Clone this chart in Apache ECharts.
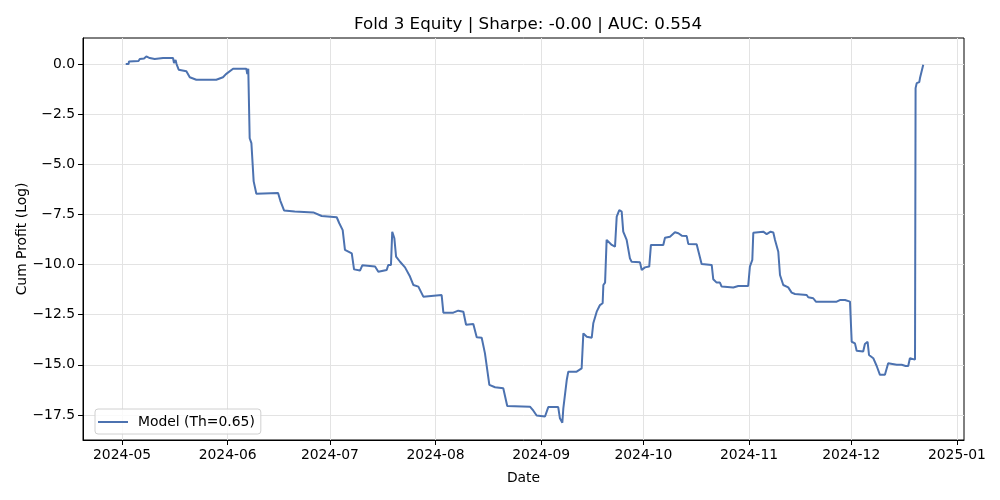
<!DOCTYPE html>
<html>
<head>
<meta charset="utf-8">
<script src="https://cdn.jsdelivr.net/npm/echarts@6/dist/echarts.min.js"></script>
<style>html,body{margin:0;padding:0;background:#fff}#c{width:1000px;height:500px}</style>
</head>
<body>
<div id="c"></div>
<script>
const titleText = 'Fold 3 Equity | Sharpe: -0.00 | AUC: 0.554';
const seriesName = 'Model (Th=0.65)';
const xTickLabels = ['2024-05-01','2024-06-01','2024-07-01','2024-08-01','2024-09-01','2024-10-01','2024-11-01','2024-12-01','2025-01-01'];
const yTickValues = [0, -2.5, -5, -7.5, -10, -12.5, -15, -17.5];
const dates = [
'2024-05-02 02:00','2024-05-02 22:00','2024-05-03 01:00','2024-05-05 20:00','2024-05-06 05:00','2024-05-07 11:00','2024-05-08 03:00','2024-05-09 03:00','2024-05-10 14:00','2024-05-13 01:00',
'2024-05-15 23:00','2024-05-16 06:00','2024-05-16 17:00','2024-05-17 00:00','2024-05-17 15:00','2024-05-19 21:00','2024-05-20 21:00','2024-05-22 19:00','2024-05-28 16:00','2024-05-30 15:00',
'2024-05-31 12:00','2024-06-01 02:00','2024-06-02 14:00','2024-06-06 11:00','2024-06-06 18:00','2024-06-07 01:00','2024-06-07 11:00','2024-06-07 23:00','2024-06-08 15:00','2024-06-09 10:00',
'2024-06-15 19:00','2024-06-16 11:00','2024-06-17 13:00','2024-06-20 16:00','2024-06-26 03:00','2024-06-28 14:00','2024-07-03 00:00','2024-07-03 18:00','2024-07-04 18:00','2024-07-05 10:00',
'2024-07-07 10:00','2024-07-08 02:00','2024-07-09 20:00','2024-07-10 12:00','2024-07-14 06:00','2024-07-15 05:00','2024-07-17 16:00','2024-07-18 03:00','2024-07-18 22:00','2024-07-19 07:00',
'2024-07-19 22:00','2024-07-20 10:00','2024-07-21 14:00','2024-07-23 01:00','2024-07-24 12:00','2024-07-25 12:00','2024-07-26 23:00','2024-07-28 10:00','2024-08-02 19:00','2024-08-03 07:00',
'2024-08-06 05:00','2024-08-07 16:00','2024-08-09 04:00','2024-08-09 23:00','2024-08-12 02:00','2024-08-13 02:00','2024-08-14 13:00','2024-08-15 12:00','2024-08-16 19:00','2024-08-18 11:00',
'2024-08-20 21:00','2024-08-22 01:00','2024-08-28 17:00','2024-08-29 17:00','2024-08-30 16:00','2024-09-02 03:00','2024-09-03 02:00','2024-09-06 00:00','2024-09-06 12:00','2024-09-07 05:00',
'2024-09-07 12:00','2024-09-08 12:00','2024-09-08 23:00','2024-09-11 10:00','2024-09-12 21:00','2024-09-13 09:00','2024-09-14 09:00','2024-09-15 20:00','2024-09-16 07:00','2024-09-17 07:00',
'2024-09-18 06:00','2024-09-19 01:00','2024-09-19 06:00','2024-09-19 18:00','2024-09-20 05:00','2024-09-20 17:00','2024-09-21 17:00','2024-09-22 16:00','2024-09-23 04:00','2024-09-23 22:00',
'2024-09-24 15:00','2024-09-25 02:00','2024-09-26 02:00','2024-09-27 01:00','2024-09-27 13:00','2024-09-30 00:00','2024-09-30 12:00','2024-10-01 11:00','2024-10-02 17:00','2024-10-03 05:00',
'2024-10-06 20:00','2024-10-07 08:00','2024-10-08 19:00','2024-10-10 06:00','2024-10-11 06:00','2024-10-12 06:00','2024-10-13 17:00','2024-10-14 04:00','2024-10-16 15:00','2024-10-18 02:00',
'2024-10-21 01:00','2024-10-21 12:00','2024-10-22 12:00','2024-10-23 11:00','2024-10-23 23:00','2024-10-27 09:00','2024-10-28 20:00','2024-10-31 18:00','2024-11-01 06:00','2024-11-01 23:00',
'2024-11-02 06:00','2024-11-05 04:00','2024-11-06 04:00','2024-11-07 08:00','2024-11-08 03:00','2024-11-08 15:00','2024-11-09 14:00','2024-11-10 02:00','2024-11-11 01:00','2024-11-12 12:00',
'2024-11-13 12:00','2024-11-14 12:00','2024-11-17 22:00','2024-11-18 09:00','2024-11-19 20:00','2024-11-20 15:00','2024-11-26 17:00','2024-11-27 16:00','2024-11-29 04:00','2024-11-29 16:00',
'2024-11-30 15:00','2024-12-01 03:00','2024-12-02 02:00','2024-12-02 14:00','2024-12-04 12:00','2024-12-05 00:00','2024-12-05 19:00','2024-12-06 05:00','2024-12-07 11:00','2024-12-08 11:00',
'2024-12-09 10:00','2024-12-10 21:00','2024-12-11 20:00','2024-12-14 08:00','2024-12-15 19:00','2024-12-16 06:00','2024-12-16 23:00','2024-12-17 17:00','2024-12-18 05:00','2024-12-19 17:00',
'2024-12-19 21:00','2024-12-20 05:00','2024-12-20 23:00','2024-12-21 04:00','2024-12-21 16:00','2024-12-22 03:00'
];
const cumProfit = [
0.0,0.0,0.13,0.15,0.25,0.28,0.38,0.3,0.25,0.3,
0.3,0.05,0.2,0.0,-0.28,-0.36,-0.66,-0.78,-0.78,-0.66,
-0.5,-0.45,-0.23,-0.23,-0.5,-0.23,-3.7,-3.94,-5.85,-6.47,
-6.43,-6.82,-7.3,-7.35,-7.4,-7.58,-7.64,-7.94,-8.28,-9.27,
-9.44,-10.24,-10.3,-10.04,-10.1,-10.36,-10.27,-10.02,-10.02,-8.36,
-8.69,-9.6,-9.86,-10.14,-10.6,-11.02,-11.1,-11.6,-11.52,-12.4,
-12.4,-12.3,-12.35,-13.0,-12.96,-13.63,-13.65,-14.43,-16.0,-16.12,
-16.17,-17.05,-17.09,-17.29,-17.53,-17.58,-17.11,-17.11,-17.67,-17.89,
-17.17,-15.76,-15.34,-15.34,-15.18,-13.43,-13.6,-13.65,-12.93,-12.35,
-12.02,-11.93,-11.02,-10.9,-8.77,-8.69,-9.02,-9.11,-7.61,-7.28,
-7.36,-8.36,-8.77,-9.69,-9.86,-9.89,-10.27,-10.14,-10.1,-9.02,
-9.02,-8.66,-8.61,-8.39,-8.44,-8.56,-8.58,-8.97,-8.99,-9.97,
-10.02,-10.73,-10.9,-10.9,-11.1,-11.14,-11.07,-11.07,-10.1,-9.77,
-8.41,-8.36,-8.48,-8.36,-8.4,-8.77,-9.36,-10.52,-11.02,-11.14,
-11.4,-11.47,-11.52,-11.63,-11.68,-11.85,-11.85,-11.77,-11.77,-11.85,
-11.85,-13.85,-13.93,-14.3,-14.34,-13.96,-13.85,-14.51,-14.67,-15.06,
-15.5,-15.5,-14.92,-15.0,-15.0,-14.92,-15.06,-15.06,-14.67,-14.74,
-1.2,-0.95,-0.9,-0.7,-0.66,-0.03
];

function ts(s){const p=s.split(/[- :]/).map(Number);return Date.UTC(p[0],p[1]-1,p[2],p[3]||0,p[4]||0);}
const seriesData = dates.map((d,i)=>[ts(d), cumProfit[i]]);
const xTicks = xTickLabels.map(ts);
const fontFam = 'DejaVu Sans';
const chart = echarts.init(document.getElementById('c'), null, {renderer:'canvas'});
chart.setOption({
  animation:false,
  backgroundColor:'#fff',
  textStyle:{fontFamily:fontFam},
  title:{text:titleText,left:523,top:11,textAlign:'center',textStyle:{fontFamily:fontFam,fontSize:16.7,fontWeight:'normal',color:'#000'}},
  grid:{left:83,right:36,top:38,bottom:60,show:true,borderColor:'#000',borderWidth:1,backgroundColor:'transparent'},
  legend:{left:95,top:409,padding:[6,6,5,3],itemWidth:30,itemHeight:12,itemGap:10,
    borderColor:'#d0d0d0',borderWidth:1,borderRadius:3,backgroundColor:'rgba(255,255,255,0.8)',
    textStyle:{fontFamily:fontFam,fontSize:13.9,color:'#000',padding:[0,0,0,5]},data:[{name:seriesName,icon:'path://M0,0 L30,0 L30,2 L0,2 Z'}]},
  xAxis:{type:'value',min:ts('2024-04-19 13:00'),max:ts('2025-01-03 02:00'),
    name:'Date',nameLocation:'middle',nameGap:31,nameMoveOverlap:false,nameTextStyle:{fontFamily:fontFam,fontSize:13.9,color:'#000'},
    axisLine:{show:true,onZero:false,lineStyle:{color:'#000',width:1}},
    axisTick:{show:true,length:5,inside:false,lineStyle:{color:'#000'},customValues:xTicks},
    minorTick:{show:false},
    axisLabel:{customValues:xTicks,fontFamily:fontFam,fontSize:13.9,color:'#000',margin:8,
      formatter:function(v){const d=new Date(v);return d.getUTCFullYear()+'-'+String(d.getUTCMonth()+1).padStart(2,'0');}},
    splitLine:{show:true,lineStyle:{color:'#e3e3e3',width:1}}},
  yAxis:{type:'value',min:-18.75,max:1.3,
    name:'Cum Profit (Log)',nameLocation:'middle',nameGap:54,nameMoveOverlap:false,nameRotate:90,nameTextStyle:{fontFamily:fontFam,fontSize:13.9,color:'#000'},
    axisLine:{show:true,onZero:false,lineStyle:{color:'#000',width:1}},
    axisTick:{show:true,length:5,lineStyle:{color:'#000'},customValues:yTickValues},
    axisLabel:{customValues:yTickValues,fontFamily:fontFam,fontSize:13.9,color:'#000',margin:8,
      formatter:function(v){return (v<-1e-9?'\u2212':'')+Math.abs(v).toFixed(1);}},
    splitLine:{show:true,lineStyle:{color:'#e3e3e3',width:1}}},
  series:[{name:seriesName,type:'line',data:seriesData,showSymbol:false,symbol:'none',
    lineStyle:{color:'#4c72b0',width:2},itemStyle:{color:'#4c72b0'}}]
});
</script>
</body>
</html>
